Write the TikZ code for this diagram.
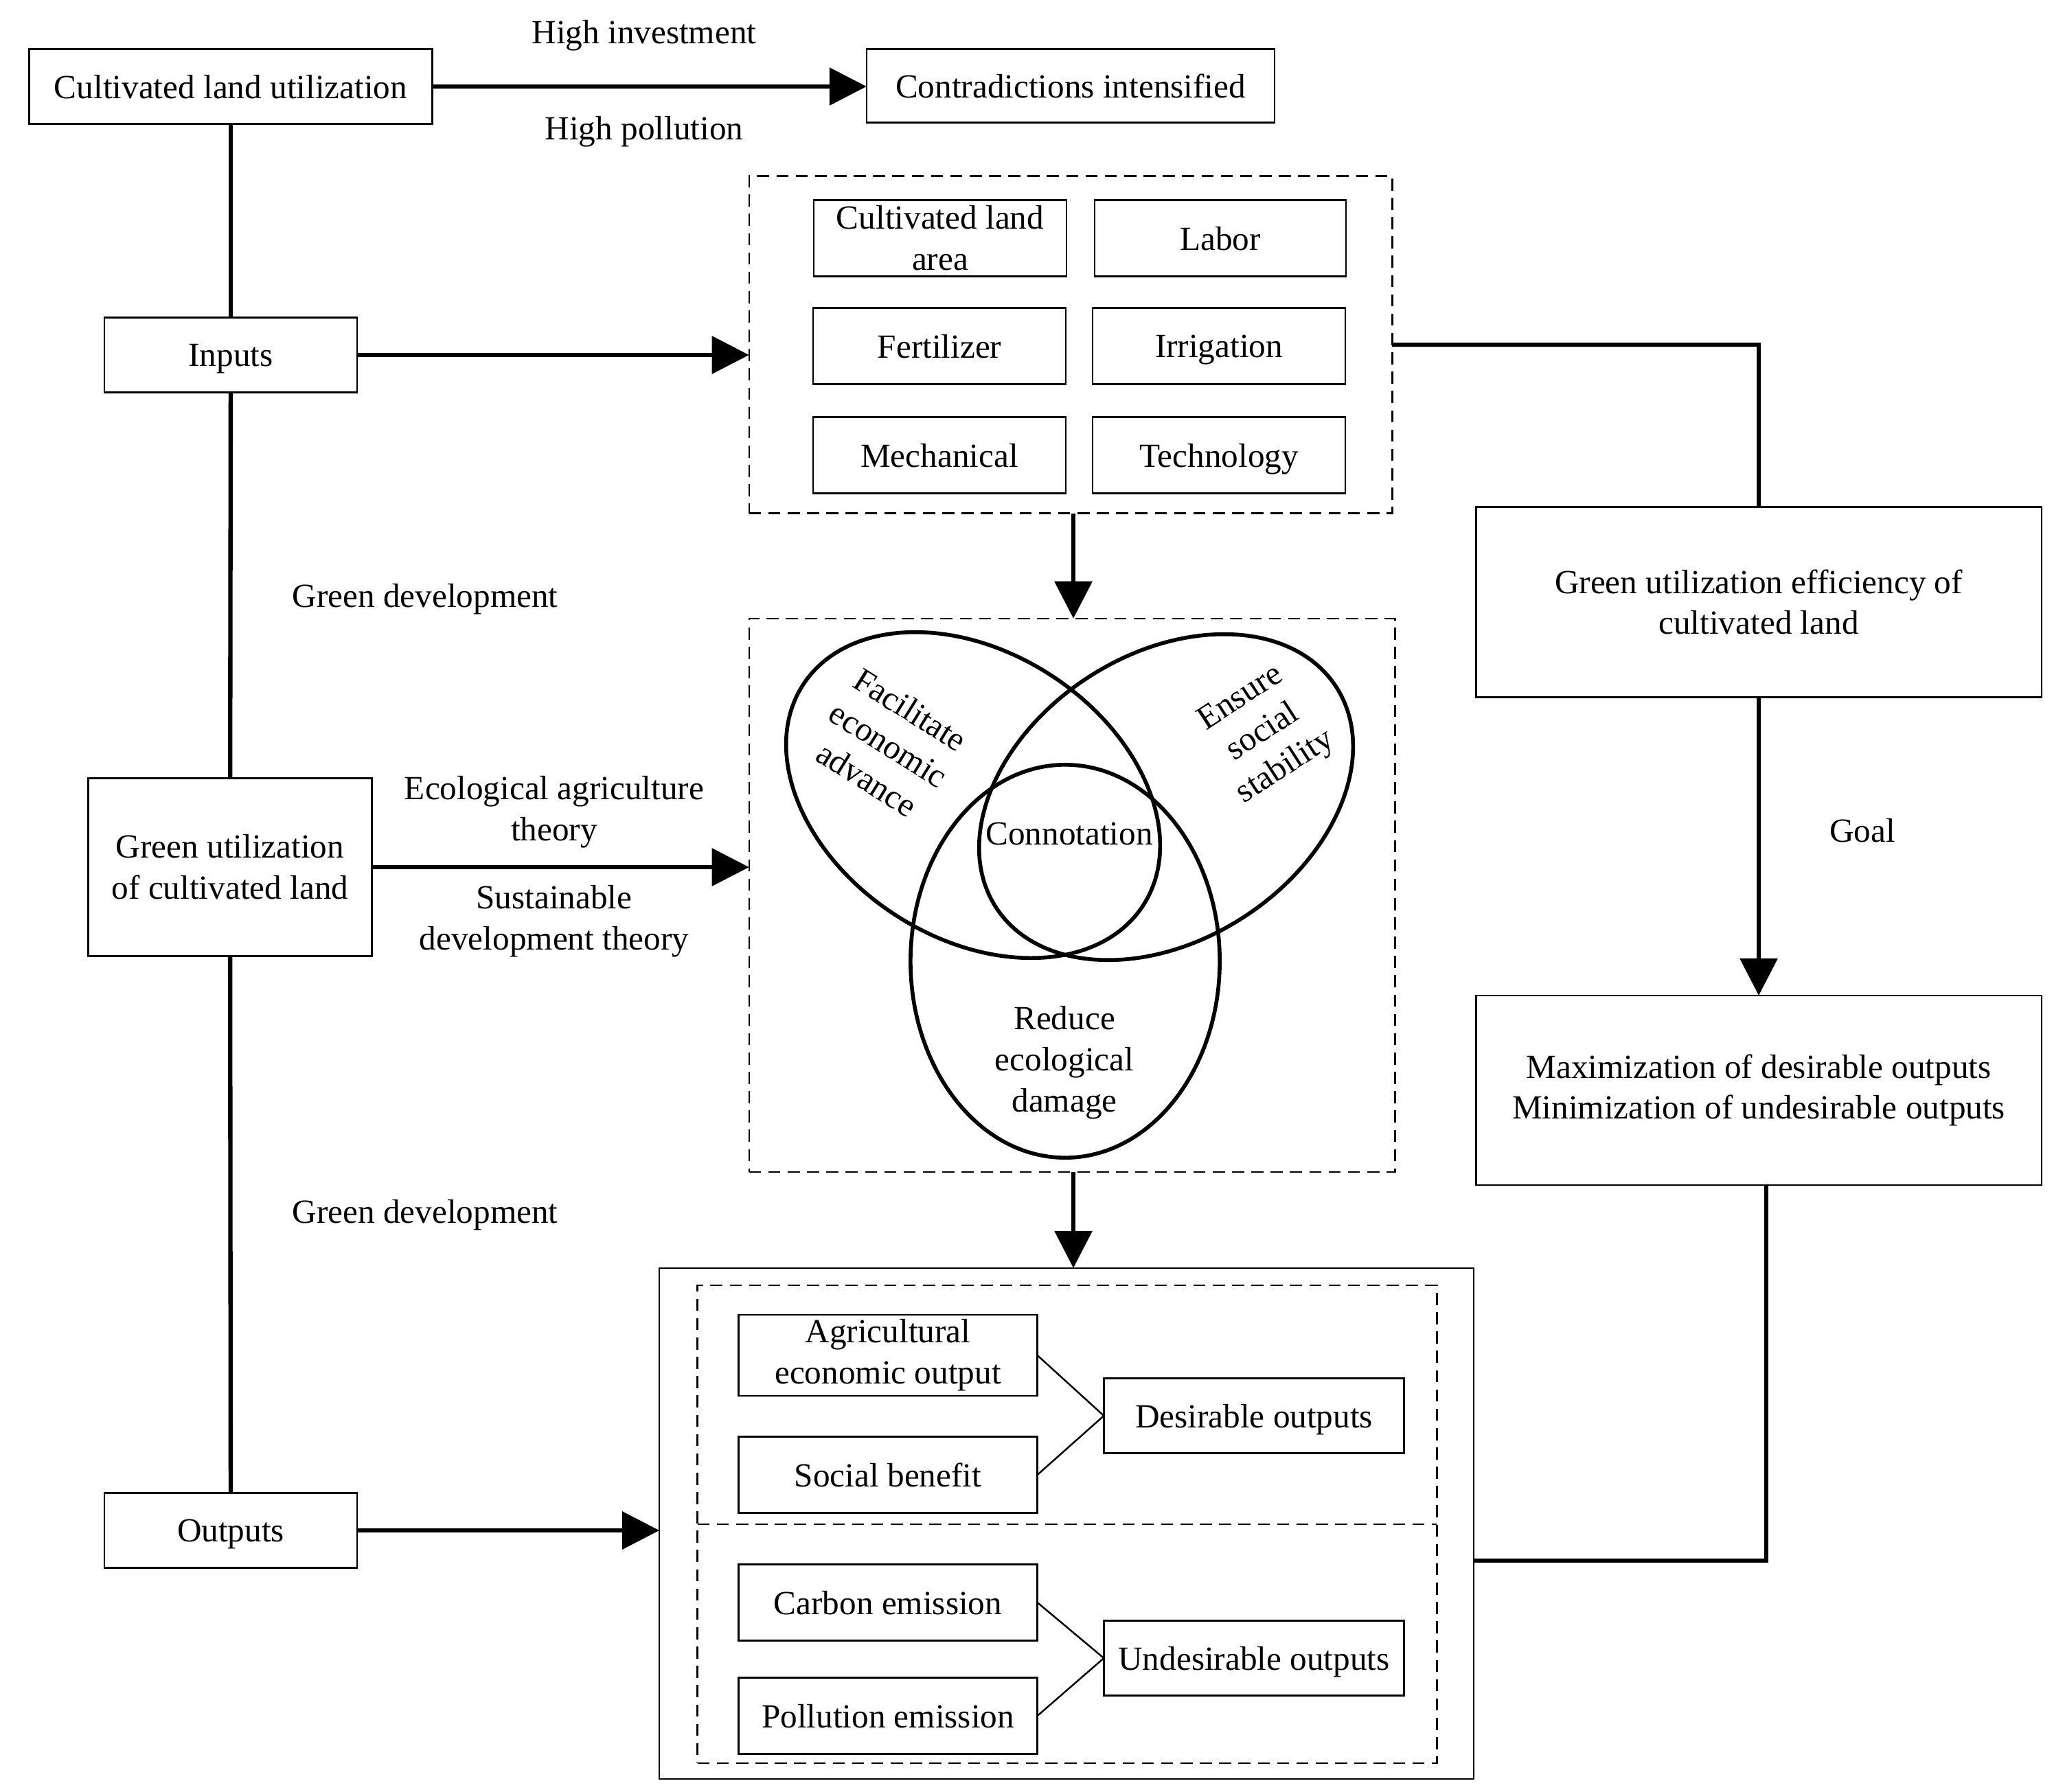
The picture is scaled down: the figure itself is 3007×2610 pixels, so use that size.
\documentclass[tikz,border=0pt]{standalone}
\usepackage{fontspec}
\setmainfont{Liberation Serif}
\usepackage{tikz}
\usetikzlibrary{positioning, arrows.meta}

\newcommand{\figfont}{\fontsize{14}{17}\selectfont}

\begin{document}
\begin{tikzpicture}[>={Triangle[width=0.54cm,length=0.54cm]}, x=0.01cm, y=-0.01cm,
        every node/.style={font=\figfont, outer sep=0pt},
        box/.style={draw, line width=0.7pt, inner sep=2pt},
        one/.style={text depth=0pt},
        dbox/.style={draw, line width=0.7pt, dash pattern=on 5pt off 3pt},
        lbl/.style={align=center, inner sep=0pt},
        flow/.style={line width=1.8pt},
        link/.style={line width=0.7pt},
        venn/.style={line width=1.6pt}]
        \useasboundingbox (0,0) rectangle (3007,2610);

        % left column
        \node[box, one, minimum width=5.87cm, minimum height=1.09cm] (cul) at (336,126) {Cultivated land utilization};
        \node[box, one, minimum width=5.94cm, minimum height=1.07cm] (contra) at (1559,125) {Contradictions intensified};
        \node[box, one, minimum width=3.68cm, minimum height=1.09cm] (inputs) at (336,517) {Inputs};
        \node[box, align=center, minimum width=4.13cm, minimum height=2.59cm] (greenu) at (335,1263) {Green utilization\\of cultivated land};
        \node[box, one, minimum width=3.68cm, minimum height=1.09cm] (outputs) at (336,2229) {Outputs};

        \node[lbl] (hinv) at (938,52) {High investment};
        \node[lbl] (hpol) at (938,192) {High pollution};
        \node[lbl] (gd1) at (619,873) {Green development};
        \node[lbl] (gd2) at (619,1770) {Green development};
        \node[lbl] (ecoth) at (807,1183) {Ecological agriculture\\theory};
        \node[lbl] (susth) at (807,1342) {Sustainable\\development theory};

        % input indicators
        \node[dbox, minimum width=9.36cm, minimum height=4.91cm] (indash) at (1559,502) {};
        \node[box, align=center, minimum width=3.68cm, minimum height=1.11cm] (area) at (1369,347) {Cultivated land\\area};
        \node[box, one, minimum width=3.66cm, minimum height=1.11cm] (labor) at (1777,347) {Labor};
        \node[box, one, minimum width=3.68cm, minimum height=1.11cm] (fert) at (1368,504) {Fertilizer};
        \node[box, one, minimum width=3.68cm, minimum height=1.11cm] (irrig) at (1775,504) {Irrigation};
        \node[box, one, minimum width=3.68cm, minimum height=1.11cm] (mech) at (1368,663) {Mechanical};
        \node[box, one, minimum width=3.68cm, minimum height=1.11cm] (tech) at (1775,663) {Technology};

        % connotation
        \node[dbox, minimum width=9.40cm, minimum height=8.06cm] (venn) at (1561,1304) {};
        \coordinate (lc) at (1417,1158);
        \coordinate (rc) at (1698,1161);
        \coordinate (bc) at (1551,1400);
        \draw[venn, rotate around={-33:(lc)}] (lc) ellipse [x radius=2.95cm, y radius=2.08cm];
        \draw[venn, rotate around={33:(rc)}] (rc) ellipse [x radius=2.95cm, y radius=2.08cm];
        \draw[venn] (bc) ellipse [x radius=2.25cm, y radius=2.86cm];
        \node[lbl, rotate=-32] (econ) at (1294,1084) {Facilitate\\economic\\advance};
        \node[lbl, rotate=33] (soc) at (1840,1068) {Ensure\\social\\stability};
        \node[lbl] (conn) at (1557,1214) {Connotation};
        \node[lbl] (eco) at (1550,1548) {Reduce\\ecological\\damage};

        % outputs
        \node[box, minimum width=11.85cm, minimum height=7.44cm] (outer) at (1553,2219) {};
        \node[dbox, minimum width=10.76cm, minimum height=6.96cm] (outdash) at (1554,2220) {};
        \node[box, align=center, minimum width=4.35cm, minimum height=1.09cm] (agri) at (1293,1974) {Agricultural\\economic output};
        \node[box, one, minimum width=4.35cm, minimum height=1.11cm] (social) at (1293,2148) {Social benefit};
        \node[box, one, minimum width=4.37cm, minimum height=1.09cm] (desir) at (1826,2062) {Desirable outputs};
        \node[box, one, minimum width=4.35cm, minimum height=1.11cm] (carbon) at (1293,2334) {Carbon emission};
        \node[box, one, minimum width=4.35cm, minimum height=1.11cm] (pollu) at (1293,2499) {Pollution emission};
        \node[box, one, minimum width=4.37cm, minimum height=1.09cm] (undes) at (1826,2415) {Undesirable outputs};

        % right column
        \node[box, align=center, minimum width=8.23cm, minimum height=2.77cm] (eff) at (2561,877) {Green utilization efficiency of\\cultivated land};
        \node[box, align=center, minimum width=8.23cm, minimum height=2.76cm] (max) at (2561,1588) {Maximization of desirable outputs\\Minimization of undesirable outputs};
        \node[lbl] (goal) at (2712,1210) {Goal};
        \coordinate (bend) at (2572,2273);
        \coordinate (mid) at (1563,0);

        \draw[flow, ->] (cul.east) -- (cul.east -| contra.west);
        \draw[flow] (cul) -- (inputs);
        \draw[flow] (inputs) -- (greenu);
        \draw[flow] (greenu) -- (outputs);
        \draw[flow, ->] (inputs.east) -- (inputs.east -| indash.west);
        \draw[flow, ->] (greenu.east) -- (greenu.east -| venn.west);
        \draw[flow, ->] (outputs.east) -- (outputs.east -| outer.west);
        \draw[flow, ->] (mid |- indash.south) -- (mid |- venn.north);
        \draw[flow, ->] (mid |- venn.south) -- (mid |- outer.north);
        \draw[flow] (indash.east) -| (eff.north);
        \draw[flow, ->] (eff) -- (max);
        \draw[flow] (max.south -| bend) -- (bend) -- (bend -| outer.east);
        \draw[dbox] (outdash.west) -- (outdash.east);
        \draw[link] (agri.east) -- (desir.west);
        \draw[link] (social.east) -- (desir.west);
        \draw[link] (carbon.east) -- (undes.west);
        \draw[link] (pollu.east) -- (undes.west);
    \end{tikzpicture}
\end{document}
